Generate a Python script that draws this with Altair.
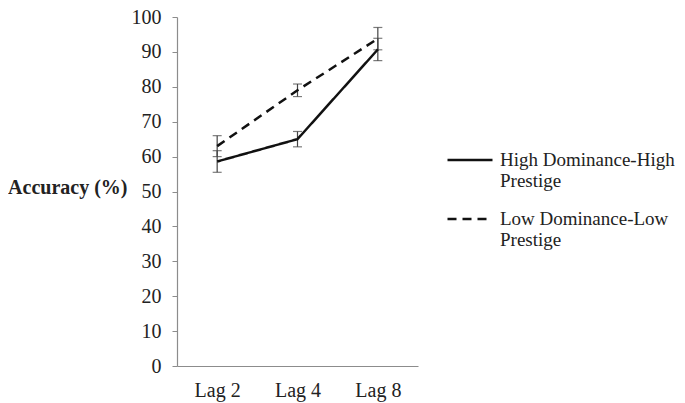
import altair as alt
import pandas as pd

lags = ["Lag 2", "Lag 4", "Lag 8"]
series_names = ["High Dominance-High Prestige", "Low Dominance-Low Prestige"]
high_vals = [58.6, 65.0, 90.7]
high_err = [3.1, 2.2, 3.2]
low_vals = [63.0, 79.0, 93.8]
low_err = [3.0, 1.8, 3.2]

rows = []
for s, vals, errs in [(series_names[0], high_vals, high_err), (series_names[1], low_vals, low_err)]:
    for lag, v, e in zip(lags, vals, errs):
        rows.append({"lag": lag, "series": s, "acc": v, "lo": v - e, "hi": v + e})
df = pd.DataFrame(rows)

FONT = "Liberation Serif"
FS = 20

xscale = alt.Scale(type="point", domain=lags, padding=0.5)
yscale = alt.Scale(domain=[0, 100], nice=False)

xaxis = alt.Axis(title=None, labelAngle=0, labelAlign="center", ticks=False, labelPadding=14,
                 labelOverlap=False,
                 labelFont=FONT, labelFontSize=FS, labelColor="#222222",
                 domainColor="#8c8c8c", domainWidth=1.2)
yaxis = alt.Axis(values=list(range(0, 101, 10)), grid=False, title="Accuracy (%)",
                 labelOverlap=False,
                 titleAngle=0, titleAlign="right", titleBaseline="middle",
                 titleX=-50, titleY=170, titleFont=FONT, titleFontSize=FS,
                 titleFontWeight="bold", titleColor="#222222",
                 labelFont=FONT, labelFontSize=FS, labelColor="#222222",
                 labelPadding=11, tickSize=5, tickColor="#8c8c8c",
                 domainColor="#8c8c8c", domainWidth=1.2)

X = alt.X("lag:N", scale=xscale, sort=lags, axis=xaxis)

base = alt.Chart(df)

lines = base.mark_line(color="#111111", strokeWidth=2.5).encode(
    x=X,
    y=alt.Y("acc:Q", scale=yscale, axis=yaxis),
    strokeDash=alt.StrokeDash("series:N",
        scale=alt.Scale(domain=series_names, range=[[1, 0], [9, 6]]),
        legend=alt.Legend(title=None, orient="none", legendX=269, legendY=119,
                          symbolType="stroke", symbolSize=2025, symbolStrokeWidth=2.5,
                          symbolStrokeColor="#111111",
                          labelFont=FONT, labelFontSize=19, labelColor="#222222",
                          labelOffset=6, labelLimit=400, rowPadding=4,
                          labelExpr="datum.label == 'High Dominance-High Prestige' ? ['High Dominance-High', 'Prestige'] : ['Low Dominance-Low', 'Prestige']")),
)

rules = base.mark_rule(color="#444444", strokeWidth=1.2).encode(
    x=X,
    y=alt.Y("lo:Q", scale=yscale, axis=yaxis),
    y2="hi:Q",
)
caps_lo = base.mark_tick(color="#444444", thickness=1.2, size=9).encode(
    x=X,
    y=alt.Y("lo:Q", scale=yscale, axis=yaxis),
)
caps_hi = base.mark_tick(color="#444444", thickness=1.2, size=9).encode(
    x=X,
    y=alt.Y("hi:Q", scale=yscale, axis=yaxis),
)

chart = alt.layer(rules, caps_lo, caps_hi, lines).properties(
    width=241, height=349,
    autosize=alt.AutoSizeParams(type="none"),
    padding={"left": 169, "top": 9, "right": 259, "bottom": 45},
).configure_view(stroke=None)

chart.save("out.html", embed_options={"renderer": "svg", "actions": False})
